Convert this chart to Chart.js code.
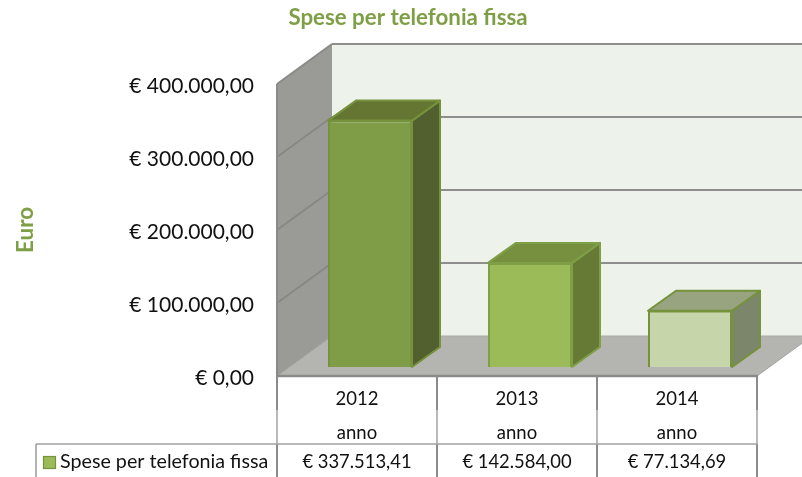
<!DOCTYPE html>
<html><head><meta charset="utf-8">
<style>html,body{margin:0;padding:0;background:#fff;overflow:hidden}#w{width:802px;height:477px;position:relative}</style>
<script src="https://cdn.jsdelivr.net/npm/chart.js@4/dist/chart.umd.min.js"></script>
</head><body><div id="w"><canvas id="c"></canvas></div>
<script>
const categories = ["2012","2013","2014"];
const categoryUnit = "anno";
const seriesName = "Spese per telefonia fissa";
const chartTitle = "Spese per telefonia fissa";
const seriesValues = [337513.41,142584.00,77134.69];
const valueLabels = ["€ 337.513,41","€ 142.584,00","€ 77.134,69"];
const frontColors = ["#7F9D47","#9BBB59","#C6D5AA"];
const topColors = ["#657633","#76903F","#98A37F"];
const sideColors = ["#525F2E","#667A35","#7C866A"];
const edgeColors = ["#76923C","#7F9F46","#76923C"];
const FONT = "Lato, 'Open Sans', sans-serif";
const WALL = {dx:55, dy:40}, BAR_DEPTH = {dx:28, dy:20}, BAR_SHIFT = {x:13, y:-9};
function poly(ctx, pts, fill, stroke, lw){
  ctx.beginPath(); pts.forEach((p,i)=> i?ctx.lineTo(p[0],p[1]):ctx.moveTo(p[0],p[1])); ctx.closePath();
  if(fill){ctx.fillStyle=fill;ctx.fill();}
  if(stroke){ctx.strokeStyle=stroke;ctx.lineWidth=lw||1;ctx.lineJoin='round';ctx.stroke();}
}
function seg(ctx,a,b,c,d,col,lw){ctx.beginPath();ctx.moveTo(a,b);ctx.lineTo(c,d);ctx.strokeStyle=col;ctx.lineWidth=lw;ctx.stroke();}
const box3d = {
  id:'box3d',
  beforeDatasetsDraw(chart){
    const {ctx,chartArea:a,scales:{y}} = chart, L=a.left,R=a.right,T=a.top,B=a.bottom,dx=WALL.dx,dy=WALL.dy;
    ctx.save();
    poly(ctx,[[L+dx,T-dy],[R+dx,T-dy],[R+dx,B-dy],[L+dx,B-dy]],"#EDF3EA");
    poly(ctx,[[L,T],[L+dx,T-dy],[L+dx,B-dy],[L,B]],"#9A9B96");
    poly(ctx,[[L,B],[L+dx,B-dy],[R+dx,B-dy],[R,B]],"#B4B5B1");
    y.ticks.forEach(t=>{
      const p=y.getPixelForValue(t.value);
      if(t.value>0) seg(ctx,L+dx,p-dy,R+dx,p-dy,"#8E8E8E",2);
      if(t.value>0 && t.value<y.max) seg(ctx,L,p,L+dx,p-dy,"#868783",1.6);
    });
    seg(ctx,L+dx,B-dy,R+dx,B-dy,"#A9AAA6",1);
    seg(ctx,L,T,L+dx,T-dy,"#8A8A8A",2);
    seg(ctx,L,T,L,B,"#8A8A8A",2);
    seg(ctx,L,B,L+dx,B-dy,"#9E9F9B",1);
    seg(ctx,R,B,R+dx,B-dy,"#A3A4A0",1);
    const bars = chart.getDatasetMeta(0).data, bx=BAR_DEPTH.dx, by=BAR_DEPTH.dy;
    bars.forEach((b,i)=>{
      const l=b.x-b.width/2+BAR_SHIFT.x, r=b.x+b.width/2+BAR_SHIFT.x, t=b.y+BAR_SHIFT.y, base=b.base+BAR_SHIFT.y;
      poly(ctx,[[r,t],[r+bx,t-by],[r+bx,base-by],[r,base]],sideColors[i],edgeColors[i],2);
      poly(ctx,[[l,t],[l+bx,t-by],[r+bx,t-by],[r,t]],topColors[i],edgeColors[i],2);
    });
    ctx.translate(BAR_SHIFT.x,BAR_SHIFT.y);
  },
  afterDatasetsDraw(chart){ chart.ctx.restore(); },
  afterDraw(chart){
    const {ctx,chartArea:a,scales:{x}} = chart, B=a.bottom, H=chart.height;
    const rowA=B+34, rowB=B+68;
    ctx.save();
    const half=(x.getPixelForValue(1)-x.getPixelForValue(0))/2;
    const edges=[a.left].concat(categories.map((c,i)=>x.getPixelForValue(i)+half));
    edges.forEach(e=>{ seg(ctx,e,B,e,rowA,"#8C8C8C",2); seg(ctx,e,rowA,e,rowB,"#A8A8A8",1.6); seg(ctx,e,rowB,e,H,"#8C8C8C",2); });
    seg(ctx,a.left-1,B,a.right+1,B,"#8A8A8A",2.5);
    seg(ctx,36,rowB,a.right,rowB,"#A0A0A0",1.6);
    seg(ctx,36,rowB,36,H,"#A0A0A0",1.6);
    ctx.font="18.4px "+FONT; ctx.fillStyle="#111"; ctx.textBaseline="middle"; ctx.textAlign="center";
    valueLabels.forEach((v,i)=>ctx.fillText(v,x.getPixelForValue(i),rowB+18));
    ctx.textAlign="left"; ctx.font="19.7px "+FONT; ctx.fillText(seriesName,60,rowB+18);
    ctx.fillStyle=frontColors[1]; ctx.strokeStyle=edgeColors[0]; ctx.lineWidth=1.2;
    ctx.fillRect(43.5,456.5,12,12); ctx.strokeRect(43.5,456.5,12,12);
    ctx.font="bold 22.3px "+FONT; ctx.fillStyle="#7F9F46"; ctx.textAlign="center";
    ctx.fillText(chartTitle,408,18);
    ctx.restore();
  }
};
new Chart(document.getElementById('c'),{
  type:'bar',
  data:{labels:categories.map(c=>[c,categoryUnit]),
    datasets:[{label:seriesName,data:seriesValues,backgroundColor:frontColors,borderColor:edgeColors,borderWidth:2,
      categoryPercentage:1,barPercentage:0.525}]},
  options:{
    responsive:true,maintainAspectRatio:false,animation:false,
    layout:{padding:{left:0,right:45,top:84,bottom:0}},
    plugins:{legend:{display:false},tooltip:{enabled:false},title:{display:false}},
    scales:{
      x:{grid:{display:false},border:{display:false},
        afterFit(s){s.height=101;},
        ticks:{color:"#111",font:{family:FONT,size:18.5,lineHeight:'34px'},padding:-2,maxRotation:0,autoSkip:false}},
      y:{min:0,max:400000,grid:{display:false},border:{display:false},
        afterFit(s){s.width=277;},
        title:{display:true,text:"Euro",color:"#7F9F46",font:{family:FONT,size:22.5,weight:'bold'},padding:{top:12,bottom:0}},
        ticks:{stepSize:100000,padding:15,color:"#111",font:{family:FONT,size:21,lineHeight:'4px'},
          callback(v){return ["","€ "+String(v).replace(/\B(?=(\d{3})+$)/g,".")+",00"];}}}
    }
  },
  plugins:[box3d]
});
</script></body></html>
